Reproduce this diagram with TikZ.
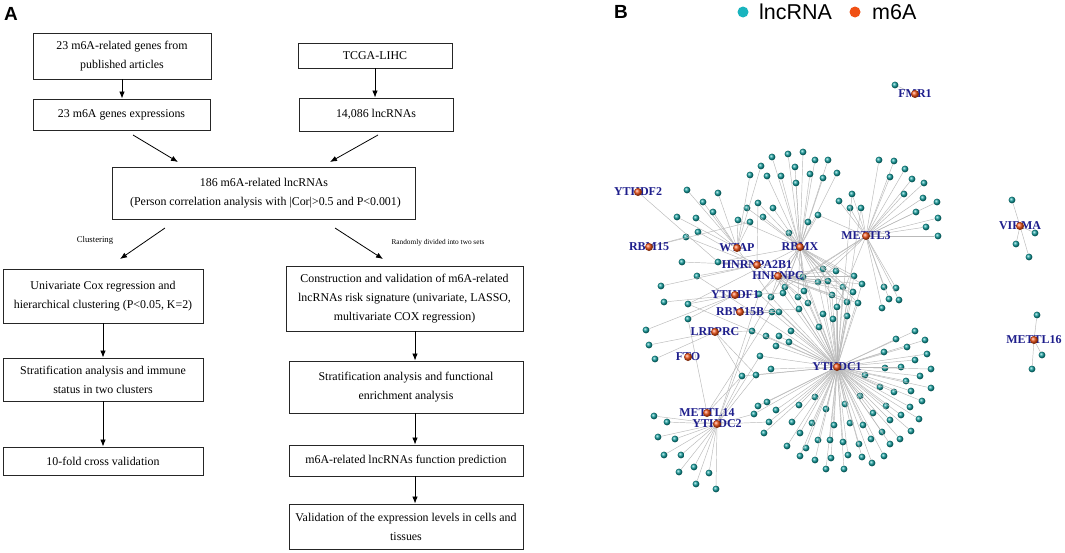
\documentclass[tikz,border=0pt]{standalone}
\usepackage{fontspec}
\setmainfont{Liberation Serif}
\newfontfamily\lsans{Liberation Sans}
\usetikzlibrary{arrows.meta,shadings}
\definecolor{lnc}{RGB}{18,160,160}
\definecolor{lncleg}{RGB}{25,180,190}
\definecolor{mred}{RGB}{240,80,20}
\definecolor{labblue}{RGB}{30,30,140}
\definecolor{edgegray}{RGB}{185,185,185}
\tikzset{
 box/.style={draw=black!85, line width=0.9pt, align=center, inner sep=0pt, font=\fontsize{11.9}{19}\selectfont},
 arr/.style={line width=0.8pt, -{Latex[length=7pt,width=5.5pt]}},
 lncball/.style={circle, inner sep=0pt, minimum size=6.8pt, ball color=lnc},
 hubdot/.style={circle, inner sep=0pt, minimum size=8pt, ball color=mred},
 hublab/.style={font=\fontsize{12}{12}\bfseries\selectfont, text=labblue, inner sep=0pt},
 edge/.style={draw=edgegray, line width=0.45pt},
 legdot/.style={circle, inner sep=0pt, minimum size=11pt},
 panel/.style={font=\lsans\bfseries\fontsize{19}{19}\selectfont, inner sep=0pt},
}
\begin{document}
\begin{tikzpicture}[x=1pt,y=-1pt]
\useasboundingbox (0,0) rectangle (1065,552);
\fill[white] (0,0) rectangle (1065,552);
% ---------------- Panel A ----------------
\node[panel] (pA) at (11,14) {A};
\node[box, minimum width=178pt, minimum height=46pt] (b1) at (122,56) {23 m6A-related genes from\\published articles};
\node[box, minimum width=177pt, minimum height=31pt] (b2) at (121.5,114.5) {23 m6A genes expressions};
\node[box, minimum width=154pt, minimum height=25pt] (b3) at (375,55.5) {TCGA-LIHC};
\node[box, minimum width=154pt, minimum height=33pt] (b4) at (376,114.5) {14,086 lncRNAs};
\node[box, minimum width=303pt, minimum height=52pt] (b5) at (264,193) {186 m6A-related lncRNAs\\\ (Person correlation analysis with |Cor|>0.5 and P<0.001)};
\node[box, minimum width=200pt, minimum height=54pt] (b6) at (103,296) {Univariate Cox regression and\\hierarchical clustering (P<0.05, K=2)};
\node[box, minimum width=200pt, minimum height=43pt] (b7) at (103,379.5) {Stratification analysis and immune\\status in two clusters};
\node[box, minimum width=200pt, minimum height=28pt] (b8) at (103,461) {10-fold cross validation};
\node[box, minimum width=237pt, minimum height=65pt] (b9) at (404.5,298.5) {Construction and validation of m6A-related\\lncRNAs risk signature (univariate, LASSO,\\multivariate COX regression)};
\node[box, minimum width=234pt, minimum height=52pt] (b10) at (406,387) {Stratification analysis and functional\\enrichment analysis};
\node[box, minimum width=234pt, minimum height=31pt] (b11) at (406,460.5) {m6A-related lncRNAs function prediction};
\node[box, minimum width=234pt, minimum height=45pt] (b12) at (406,526.5) {Validation of the expression levels in cells and\\tissues};
\draw[arr] (b1.south) -- (b1.south |- b2.north);
\draw[arr] (b3.south) -- (b3.south |- b4.north);
\draw[arr] (b6.south) -- (b6.south |- b7.north);
\draw[arr] (b7.south) -- (b7.south |- b8.north);
\coordinate (rx) at (415,0);
\draw[arr] (rx |- b9.south) -- (rx |- b10.north);
\draw[arr] (rx |- b10.south) -- (rx |- b11.north);
\draw[arr] (rx |- b11.south) -- (rx |- b12.north);
\coordinate (d1s) at (133,135); \coordinate (d1e) at (178,162);
\coordinate (d2s) at (378,135); \coordinate (d2e) at (330,162);
\coordinate (d3s) at (165,228); \coordinate (d3e) at (120,259);
\coordinate (d4s) at (335,228); \coordinate (d4e) at (383,259);
\draw[arr] (d1s) -- (d1e);
\draw[arr] (d2s) -- (d2e);
\draw[arr] (d3s) -- (d3e);
\draw[arr] (d4s) -- (d4e);
\node[font=\fontsize{8.7}{9}\selectfont, inner sep=0pt] (lclu) at (95,240) {Clustering};
\node[font=\fontsize{7.3}{8}\selectfont, inner sep=0pt] (lrand) at (438,243) {Randomly divided into two sets};
% ---------------- Panel B ----------------
\node[panel] (pB) at (621,12) {B};
\node[legdot, fill=lncleg] (leg1) at (743,12) {};
\node[anchor=base west, inner sep=0pt, font=\lsans\fontsize{21.5}{21.5}\selectfont] (leg1t) at (759,19.5) {lncRNA};
\node[legdot, fill=mred] (leg2) at (855,12) {};
\node[anchor=base west, inner sep=0pt, font=\lsans\fontsize{21.5}{21.5}\selectfont] (leg2t) at (872,19.5) {m6A};
% hubs
\coordinate (FMR1) at (915,94);
\coordinate (YTHDF2) at (638,192);
\coordinate (RBM15) at (649,247);
\coordinate (WTAP) at (737,248);
\coordinate (RBMX) at (800,247);
\coordinate (METTL3) at (866,236);
\coordinate (HNRNPA2B1) at (757,265);
\coordinate (HNRNPC) at (778,276);
\coordinate (YTHDF1) at (735,295);
\coordinate (RBM15B) at (740,312);
\coordinate (LRPPRC) at (715,332);
\coordinate (FTO) at (688,357);
\coordinate (YTHDC1) at (837,367);
\coordinate (METTL14) at (707,413);
\coordinate (YTHDC2) at (717,424);
\coordinate (VIRMA) at (1020,226);
\coordinate (METTL16) at (1034,340);
% RBMX top fan
\foreach \px/\py [count=\i] in {772/157,788/154,803/152,815/160,828/160,795/167,767/176,781/176,810/174,823/178,837/173,796/183,789/233,808/222,818/215,763/217,773/208,758/203,747/208}
 {\node[lncball] (rb\i) at (\px,\py) {}; \draw[edge] (RBMX) -- (rb\i);}
% METTL3 fan
\foreach \px/\py [count=\i] in {879/160,894/161,890/177,905/169,912/179,924/183,904/194,923/198,937/202,916/212,938/218,926/227,938/236,852/194,839/201,850/208,861/208,884/287,896/288,889/299,899/300,882/308}
 {\node[lncball] (me\i) at (\px,\py) {}; \draw[edge] (METTL3) -- (me\i);}
% WTAP
\foreach \px/\py [count=\i] in {687/190,718/193,703/202,713/212,677/217,696/218,738/220,750/222,750/175,761/166}
 {\node[lncball] (wt\i) at (\px,\py) {}; \draw[edge] (WTAP) -- (wt\i);}
% HNRNPA2B1
\foreach \px/\py [count=\i] in {698/232,686/237,682/262,718/262,697/276,661/286}
 {\node[lncball] (ha\i) at (\px,\py) {}; \draw[edge] (HNRNPA2B1) -- (ha\i);}
% central cluster
\foreach \px/\py [count=\i] in {823/269,836/271,854/276,818/282,828/281,843/287,862/284,803/277,832/295,847/302,858/303,785/287,798/297,808/303,783/293,771/297,759/294,804/291,853/292}
 {\node[lncball] (cn\i) at (\px,\py) {}; \draw[edge] (HNRNPC) -- (cn\i); \draw[edge] (RBMX) -- (cn\i); \draw[edge] (YTHDC1) -- (cn\i);}
% YTHDF1
\foreach \px/\py [count=\i] in {664/302,688/304,688/319,646/330}
 {\node[lncball] (yf\i) at (\px,\py) {}; \draw[edge] (YTHDF1) -- (yf\i);}
% RBM15B
\foreach \px/\py [count=\i] in {772/312,779/312,799/309}
 {\node[lncball] (rbb\i) at (\px,\py) {}; \draw[edge] (RBM15B) -- (rbb\i); \draw[edge] (YTHDC1) -- (rbb\i);}
% LRPPRC
\foreach \px/\py [count=\i] in {649/345,655/359,752/331}
 {\node[lncball] (lr\i) at (\px,\py) {}; \draw[edge] (LRPPRC) -- (lr\i);}
% YTHDC1 inner
\foreach \px/\py [count=\i] in {823/314,833/319,847/316,819/327,837/307,766/336,779/336,791/331,789/342,776/346,760/356,771/369,742/376,756/375,754/414,758/406,767/402,769/422,764/433,776/410}
 {\node[lncball] (yc\i) at (\px,\py) {}; \draw[edge] (YTHDC1) -- (yc\i);}
% YTHDC1 outer fan
\foreach \px/\py [count=\i] in {915/331,896/339,925/340,907/347,884/352,927/354,915/360,885/368,901/367,931/369,865/375,920/376,906/381,880/387,911/391,931/388,894/392,860/396,922/401,886/406,910/407,873/413,901/415,919/419,890/420,882/432,911/431,900/439,890/444,871/439,845/404,850/423,863/425,859/444,884/456,872/463,862/457,848/455,844/469,826/469,831/458,843/442,830/440,818/440,834/425,826/409,815/397,799/405,812/423,800/433,806/448,792/422,787/446,800/456,815/460}
 {\node[lncball] (yo\i) at (\px,\py) {}; \draw[edge] (YTHDC1) -- (yo\i);}
% YTHDC2
\foreach \px/\py [count=\i] in {654/416,667/422,658/437,675/439,664/455,681/455,679/472,694/467,709/473,696/484,716/489}
 {\node[lncball] (y2\i) at (\px,\py) {}; \draw[edge] (YTHDC2) -- (y2\i);}
% small components
\node[lncball] (fm1) at (895,85) {}; \draw[edge] (FMR1) -- (fm1);
\foreach \px/\py [count=\i] in {1012/200,1035/233,1016/244,1029/257}
 {\node[lncball] (vi\i) at (\px,\py) {}; \draw[edge] (VIRMA) -- (vi\i);}
\foreach \px/\py [count=\i] in {1037/315,1042/355,1032/369}
 {\node[lncball] (mt\i) at (\px,\py) {}; \draw[edge] (METTL16) -- (mt\i);}
% extra cross edges
\draw[edge] (YTHDF2) -- (ha4);
\draw[edge] (RBM15) -- (ha2);
\draw[edge] (RBM15) -- (wt8);
\draw[edge] (YTHDC2) -- (yc13);
\draw[edge] (YTHDC2) -- (yc14);
\draw[edge] (YTHDC2) -- (lr3);
\draw[edge] (YTHDC2) -- (yc11);
\draw[edge] (YTHDC2) -- (cn17);
\draw[edge] (YTHDC2) -- (yc15);
\draw[edge] (YTHDC2) -- (yc18);
\draw[edge] (METTL14) -- (yc13);
\draw[edge] (METTL14) -- (yf3);
\draw[edge] (METTL14) -- (rbb1);
\draw[edge] (LRPPRC) -- (yc13);
\draw[edge] (LRPPRC) -- (yc14);
\draw[edge] (YTHDC1) -- (me14);
\draw[edge] (YTHDC1) -- (me17);
\draw[edge] (YTHDC1) -- (rb13);
\draw[edge] (YTHDC1) -- (ha5);
\draw[edge] (YTHDC1) -- (yf2);
\draw[edge] (METTL3) -- (cn1);
\draw[edge] (METTL3) -- (cn4);
\draw[edge] (METTL3) -- (cn8);
\draw[edge] (METTL3) -- (cn12);
\draw[edge] (METTL3) -- (yc5);
\draw[edge] (METTL3) -- (rb15);
\draw[edge] (RBMX) -- (wt7);
\draw[edge] (RBMX) -- (ha4);
\draw[edge] (RBMX) -- (yf2);
\draw[edge] (RBMX) -- (lr3);
\draw[edge] (WTAP) -- (cn16);
\draw[edge] (YTHDF1) -- (cn17);
\draw[edge] (YTHDF1) -- (cn15);
\draw[edge] (HNRNPA2B1) -- (rb18);
\draw[edge] (HNRNPA2B1) -- (cn12);
% hub labels and dots
\foreach \h in {FMR1,YTHDF2,RBM15,WTAP,RBMX,METTL3,HNRNPA2B1,HNRNPC,YTHDF1,RBM15B,LRPPRC,FTO,YTHDC1,METTL14,YTHDC2,VIRMA,METTL16}
 {\node[hublab] (\h-lab) at (\h) {\h};}
\foreach \h in {FMR1,YTHDF2,RBM15,WTAP,RBMX,METTL3,HNRNPA2B1,HNRNPC,YTHDF1,RBM15B,LRPPRC,FTO,YTHDC1,METTL14,YTHDC2,VIRMA,METTL16}
 {\node[hubdot] (\h-dot) at (\h) {};}
\end{tikzpicture}
\end{document}
